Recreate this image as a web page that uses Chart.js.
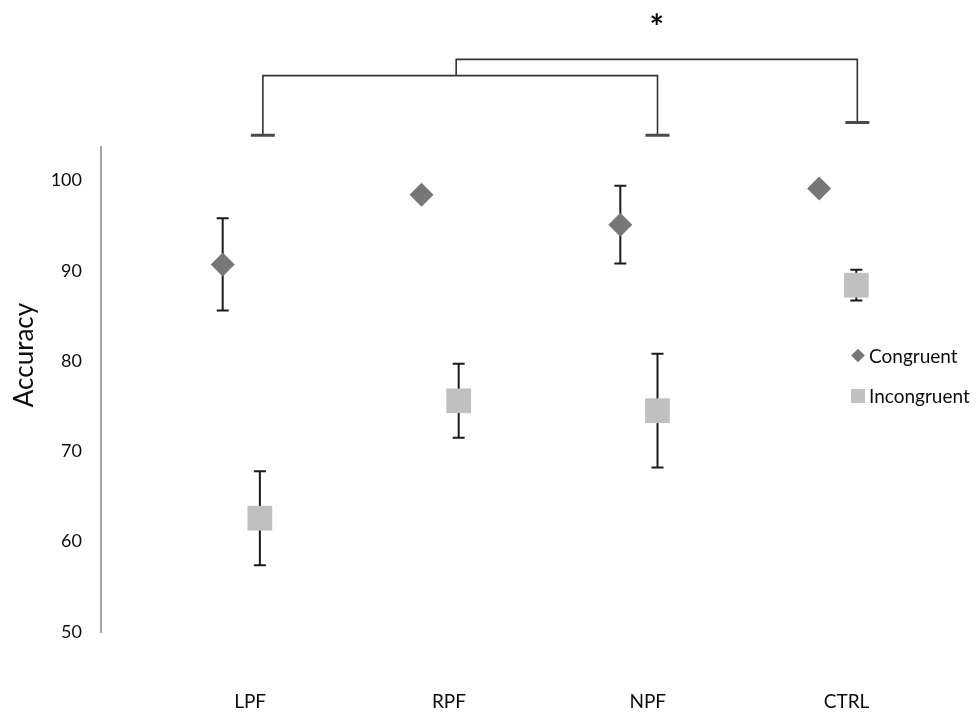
<!DOCTYPE html>
<html>
<head>
<meta charset="utf-8">
<script src="https://cdn.jsdelivr.net/npm/chart.js@4/dist/chart.umd.min.js"></script>
<style>
  html, body { margin: 0; padding: 0; background: #ffffff; }
  #wrap { width: 979px; height: 717px; position: relative; }
</style>
</head>
<body>
<div id="wrap"><canvas id="chart"></canvas></div>
<script>
// ---- data ----
const categories = ['LPF', 'RPF', 'NPF', 'CTRL'];
const seriesNames = ['Congruent', 'Incongruent'];
const congruentMean = [90.7, 98.4, 95.1, 99.1];
const congruentErr = [5.1, 0, 4.3, 0];
const incongruentMean = [62.6, 75.6, 74.5, 88.4];
const incongruentErr = [5.2, 4.1, 6.3, 1.7];
const yTicks = [50, 60, 70, 80, 90, 100];

// significance comparison: LPF..NPF group against CTRL
const comparisonGroup = [0, 2];
const comparisonTarget = 3;
const comparisonMark = '*';

// ---- layout / style ----
const DODGE = { congruent: -0.138, incongruent: 0.049 };
const BRACKET_LEVELS = { innerFoot: 105.0, innerBar: 111.6, outerFoot: 106.4, outerBar: 113.4, mark: 117.9 };
const COLORS = { congruent: '#777777', incongruent: '#c0c0c0', text: '#0d0d0d', axis: '#a6a6a6', bar: '#1a1a1a' };
const FONT = 'Lato';

function points(means, dodge) {
  return means.map((m, i) => ({ x: i + dodge, y: m }));
}

// vertical error bars with caps, drawn under the markers
const errorBarPlugin = {
  id: 'errorBars',
  beforeDatasetsDraw(chart) {
    const { ctx } = chart;
    const yScale = chart.scales.y;
    chart.data.datasets.forEach((ds, d) => {
      const meta = chart.getDatasetMeta(d);
      ds.data.forEach((pt, i) => {
        const err = ds.errors[i];
        if (!err) return;
        const x = meta.data[i].x;
        const yTop = yScale.getPixelForValue(pt.y + err);
        const yBot = yScale.getPixelForValue(pt.y - err);
        ctx.save();
        ctx.strokeStyle = COLORS.bar;
        ctx.lineWidth = 2;
        ctx.beginPath();
        ctx.moveTo(x, yTop); ctx.lineTo(x, yBot);
        ctx.moveTo(x - 6, yTop); ctx.lineTo(x + 6, yTop);
        ctx.moveTo(x - 6, yBot); ctx.lineTo(x + 6, yBot);
        ctx.stroke();
        ctx.restore();
      });
    });
  }
};

// significance brackets above the plot
const bracketPlugin = {
  id: 'sigBrackets',
  afterDraw(chart) {
    const { ctx } = chart;
    const xs = chart.scales.x, ys = chart.scales.y;
    const px = i => xs.getPixelForValue(i + DODGE.incongruent);
    const py = v => ys.getPixelForValue(v);
    const L = px(comparisonGroup[0]) + 3, R = px(comparisonGroup[1]);
    const M = (L + R) / 2 - 4, F = px(comparisonTarget) + 1;
    const b = BRACKET_LEVELS;
    ctx.save();
    ctx.strokeStyle = '#333333';
    ctx.lineWidth = 1.6;
    ctx.beginPath();
    ctx.moveTo(L, py(b.innerFoot)); ctx.lineTo(L, py(b.innerBar));
    ctx.lineTo(R, py(b.innerBar)); ctx.lineTo(R, py(b.innerFoot));
    ctx.moveTo(M, py(b.innerBar)); ctx.lineTo(M, py(b.outerBar));
    ctx.lineTo(F, py(b.outerBar)); ctx.lineTo(F, py(b.outerFoot));
    ctx.stroke();
    ctx.strokeStyle = '#4a4a4a';
    ctx.lineWidth = 3;
    ctx.beginPath();
    [[L, b.innerFoot], [R, b.innerFoot], [F, b.outerFoot]].forEach(([x, v]) => {
      ctx.moveTo(x - 12, py(v)); ctx.lineTo(x + 12, py(v));
    });
    ctx.stroke();
    ctx.fillStyle = '#000000';
    ctx.font = 'bold 34px ' + FONT;
    ctx.textAlign = 'center';
    ctx.textBaseline = 'alphabetic';
    const m = ctx.measureText(comparisonMark);
    ctx.fillText(comparisonMark, (M + F) / 2, py(b.mark) + (m.actualBoundingBoxAscent - m.actualBoundingBoxDescent) / 2);
    ctx.restore();
  }
};

// legend and y-axis title
const decorPlugin = {
  id: 'decor',
  afterDraw(chart) {
    const { ctx, chartArea } = chart;
    ctx.save();
    // y-axis title
    ctx.translate(chartArea.left - 76, chartArea.top + 208);
    ctx.rotate(-Math.PI / 2);
    ctx.font = '26px ' + FONT;
    ctx.fillStyle = COLORS.text;
    ctx.textAlign = 'center';
    ctx.textBaseline = 'middle';
    ctx.fillText('Accuracy', 0, 0);
    ctx.restore();

    // legend
    const lx = chartArea.right - 88;
    const rows = [chartArea.top + 208.5, chartArea.top + 249];
    ctx.save();
    chart.data.datasets.forEach((ds, d) => {
      const y = rows[d];
      ctx.fillStyle = ds.backgroundColor;
      ctx.beginPath();
      if (ds.pointStyle === 'rectRot') {
        const r = 6.8;
        ctx.moveTo(lx, y - r); ctx.lineTo(lx + r, y); ctx.lineTo(lx, y + r); ctx.lineTo(lx - r, y);
        ctx.closePath();
      } else {
        ctx.rect(lx - 7, y - 7, 14, 14);
      }
      ctx.fill();
      ctx.fillStyle = COLORS.text;
      ctx.font = '19px ' + FONT;
      ctx.textAlign = 'left';
      ctx.textBaseline = 'middle';
      ctx.fillText(ds.label, lx + 11, y + 1);
    });
    ctx.restore();
  }
};

function draw() {
  new Chart(document.getElementById('chart'), {
    type: 'scatter',
    data: {
      datasets: [
        {
          label: seriesNames[0],
          data: points(congruentMean, DODGE.congruent),
          errors: congruentErr,
          pointStyle: 'rectRot',
          pointRadius: 12,
          pointBorderWidth: 0,
          backgroundColor: COLORS.congruent,
          borderColor: COLORS.congruent
        },
        {
          label: seriesNames[1],
          data: points(incongruentMean, DODGE.incongruent),
          errors: incongruentErr,
          pointStyle: 'rect',
          pointRadius: 17.5,
          pointBorderWidth: 0,
          backgroundColor: COLORS.incongruent,
          borderColor: COLORS.incongruent
        }
      ]
    },
    options: {
      responsive: true,
      maintainAspectRatio: false,
      animation: false,
      layout: { padding: { top: 147, right: 33, bottom: 0, left: 0 } },
      plugins: { legend: { display: false }, tooltip: { enabled: false } },
      scales: {
        x: {
          type: 'linear',
          min: -0.75,
          max: 3.5,
          afterBuildTicks: s => { s.ticks = categories.map((c, i) => ({ value: i })); },
          afterFit: s => { s.height = 85; },
          grid: { display: false, drawTicks: false },
          border: { display: false },
          ticks: {
            autoSkip: false,
            maxRotation: 0,
            padding: 58,
            color: COLORS.text,
            font: { family: FONT, size: 19 },
            callback: (v, i) => categories[i]
          }
        },
        y: {
          min: 50,
          max: 103.7,
          afterBuildTicks: s => { s.ticks = yTicks.map(v => ({ value: v })); },
          afterFit: s => { s.width = 101; },
          grid: { display: false, drawTicks: false },
          border: { display: true, color: COLORS.axis, width: 2 },
          ticks: {
            padding: 19,
            color: COLORS.text,
            font: { family: FONT, size: 18 }
          }
        }
      }
    },
    plugins: [errorBarPlugin, bracketPlugin, decorPlugin]
  });
}

if (document.fonts && document.fonts.load) {
  Promise.all([document.fonts.load('18px Lato'), document.fonts.load('bold 34px Lato')]).then(draw, draw);
} else {
  draw();
}
</script>
</body>
</html>
